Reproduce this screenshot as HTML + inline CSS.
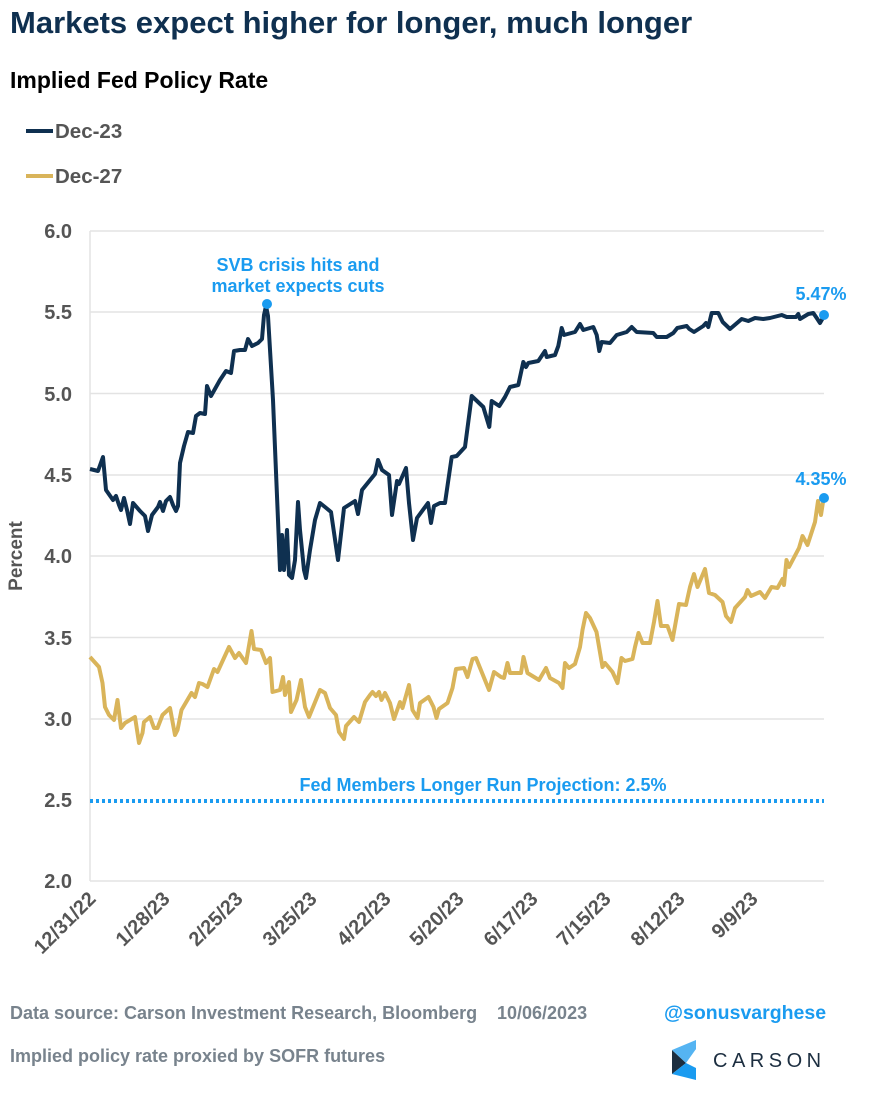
<!DOCTYPE html>
<html><head><meta charset="utf-8"><style>
html,body{margin:0;padding:0;background:#fff;}
body{width:870px;height:1100px;overflow:hidden;font-family:"Liberation Sans",sans-serif;}
</style></head><body>
<svg width="870" height="1100" viewBox="0 0 870 1100" xmlns="http://www.w3.org/2000/svg" font-family="Liberation Sans, sans-serif">
<text x="10" y="33" font-size="31" font-weight="bold" fill="#0f3050">Markets expect higher for longer, much longer</text>
<text x="10" y="88" font-size="23" font-weight="bold" fill="#000">Implied Fed Policy Rate</text>
<line x1="26" y1="131" x2="53" y2="131" stroke="#0f3050" stroke-width="4"/>
<text x="55" y="138" font-size="20.5" font-weight="bold" fill="#555">Dec-23</text>
<line x1="26" y1="176" x2="53" y2="176" stroke="#d9b45a" stroke-width="4"/>
<text x="55" y="183" font-size="20.5" font-weight="bold" fill="#555">Dec-27</text>

<g stroke="#e3e3e3" stroke-width="1.5">
<line x1="90" y1="231" x2="824" y2="231"/><line x1="90" y1="312" x2="824" y2="312"/>
<line x1="90" y1="393.5" x2="824" y2="393.5"/><line x1="90" y1="475" x2="824" y2="475"/>
<line x1="90" y1="556" x2="824" y2="556"/><line x1="90" y1="637.5" x2="824" y2="637.5"/>
<line x1="90" y1="719" x2="824" y2="719"/><line x1="90" y1="881" x2="824" y2="881"/>
<line x1="90" y1="231" x2="90" y2="881"/>
</g>
<g font-size="20" font-weight="bold" fill="#555" text-anchor="end">
<text x="72" y="238">6.0</text><text x="72" y="319">5.5</text><text x="72" y="401">5.0</text>
<text x="72" y="482">4.5</text><text x="72" y="563">4.0</text><text x="72" y="645">3.5</text>
<text x="72" y="726">3.0</text><text x="72" y="807">2.5</text><text x="72" y="888">2.0</text>
</g>
<text transform="translate(22,556) rotate(-90)" font-size="19" font-weight="bold" fill="#555" text-anchor="middle">Percent</text>
<g font-size="20" font-weight="bold" fill="#555" text-anchor="end">
<text transform="translate(97,900) rotate(-45)">12/31/22</text>
<text transform="translate(171,900) rotate(-45)">1/28/23</text>
<text transform="translate(244,900) rotate(-45)">2/25/23</text>
<text transform="translate(318,900) rotate(-45)">3/25/23</text>
<text transform="translate(392,900) rotate(-45)">4/22/23</text>
<text transform="translate(465,900) rotate(-45)">5/20/23</text>
<text transform="translate(539,900) rotate(-45)">6/17/23</text>
<text transform="translate(612,900) rotate(-45)">7/15/23</text>
<text transform="translate(686,900) rotate(-45)">8/12/23</text>
<text transform="translate(759,900) rotate(-45)">9/9/23</text>
</g>

<line x1="90" y1="801" x2="824" y2="801" stroke="#1a9bf0" stroke-width="4" stroke-dasharray="3 3"/>
<text x="483" y="791" font-size="18" font-weight="bold" fill="#1a9bf0" text-anchor="middle">Fed Members Longer Run Projection: 2.5%</text>

<polyline fill="none" stroke="#d9b45a" stroke-width="4" stroke-linejoin="round" points="90,657 99,667 102.5,683 105,707 109,715 114,720 117.5,700 121,728 125,723 135,717 139,743 142.5,733 144,722 150,717 154,728 157.5,728 162.5,715 170,708 175,735 177.5,730 181.5,710 191.5,693 195,697 199,683 202.5,684 207.5,687 214,669 217.5,672 229,647 235,658 239,653 246,663 251.5,631 254,649 261,650 266,663 270,658 272.5,692 280,690 283,677 285,695 289,682 291,712 296.5,700 301,680 305,707 309,717 320,690 325,693 330,708 336,715 339,732 344,739 346,726 354,717 359,722 365,702 370,695 372.5,692 376,696 379,692 381.5,700 385,693 390,703 394,719 400,702 402.5,708 409,685 412.5,710 417.5,718 420,703 428.5,697 433.5,707 436.5,718 439,709 447.5,703 452.5,688 456,669 464,668 467.5,677 472.5,659 476,658 489,690 494,672 501,677 504,678 507.5,663 510,673 521,673 523.5,657 527.5,673 539,680 546,668 550,678 559,683 562.5,688 565,663 569,668 575,664 580,647 582.5,630 586,613 590,618 596.5,632 602.5,667 605,663 612.5,672 617.5,683 621.5,658 625,661 632.5,659 635,647 638.5,633 642.5,643 650,643 654,622 657.5,601 661,626 667.5,626 672.5,640 679,604 686,605 690,587 694,574 697.5,587 705,569 709,593 715,595 722.5,602 726,616 731,622 735,608 745,597 747.5,590 751,596 760,592 765,598 771.5,587 777.5,588 782.5,579 784,585 786.5,560 789,567 799,548 802.5,536 807.5,545 815,522 818,501 821,515 823,502"/>

<polyline fill="none" stroke="#0f3050" stroke-width="4" stroke-linejoin="round" points="90,469 98,471 103,457 106,490 113,500 116,496 119,505 121,510 124,498 127,510 130,524 133,503 140,511 145,516 148,531 152,515 158,507 160,502 163,511 166,501 170,497 173,505 176,511 178,506 180,463 184,446 188,432 193,433 196,416 200,413 205,414 207,386 211,396 220,380 226,371 231,373 234,351 240,350 245,350 248,339 252,346 258,343 262,339 264,315 266,306 268,316 273,400 278,520 280,570 282,535 284,570 287,530 289,575 292,578 295,560 298,502 300,530 304,570 306,578 310,550 315,520 320,503 325,507 331,512 338,560 344,508 355,501 358,514 362,490 375,474 378,460 382,470 389,475 392,515 397,481 399,484 406,468 409,503 413,540 417,518 428,503 431,523 434,506 440,503 445,503 451.7,457 456.7,456 465,447 471.7,396 483.3,407 489.3,427 491.7,401 499.3,406 505,397 510,387 518.3,385 523.3,362 526,367 528.3,363 538.3,361 545,351 546.7,357 555,355 558.3,346 561.7,328 564,335 575,332 580,324 583.3,330 593.3,327 596.7,335 599.3,351 601.7,342 610,343 616.7,335 626.7,332 631.7,327 636.7,332 653.3,333 656.7,337 666.7,337 673.3,333 677.3,328 686.7,326 689.3,329 694,332 703.3,326 706,323 708.3,327 711.7,313 718.3,313 722.7,322 730,329 741.7,319 748.3,321 755,318 763.3,319 770,318 781.7,315 786.7,317 796,317 798.3,314 800,319 808.3,314 813.3,313 816.7,318 820,323 824,316"/>

<circle cx="267" cy="304" r="5" fill="#1a9bf0"/>
<circle cx="824" cy="315" r="5" fill="#1a9bf0"/>
<circle cx="824" cy="498" r="5" fill="#1a9bf0"/>
<g font-size="18" font-weight="bold" fill="#1a9bf0" text-anchor="middle">
<text x="298" y="271">SVB crisis hits and</text>
<text x="298" y="292">market expects cuts</text>
<text x="821" y="300">5.47%</text>
<text x="821" y="485">4.35%</text>
</g>

<text x="10" y="1019" font-size="18" font-weight="bold" fill="#78838d">Data source: Carson Investment Research, Bloomberg</text>
<text x="497" y="1019" font-size="18" font-weight="bold" fill="#78838d">10/06/2023</text>
<text x="10" y="1062" font-size="18" font-weight="bold" fill="#78838d">Implied policy rate proxied by SOFR futures</text>
<text x="664" y="1019" font-size="19.5" font-weight="bold" fill="#1a9bf0">@sonusvarghese</text>
<polygon points="696,1040 680,1055 690,1055 696,1049" fill="#7cc6f5"/>
<polygon points="672,1050 686,1063 672,1074" fill="#1c2e40"/>
<polygon points="672,1074 686,1063 696,1068 696,1080" fill="#1a9bf0"/>
<polygon points="672,1050 696,1040 696,1049 686,1063" fill="#55b4f2"/>
<text x="713" y="1067" font-size="20" fill="#1c2e40" letter-spacing="4.5">CARSON</text>
</svg>
</body></html>
